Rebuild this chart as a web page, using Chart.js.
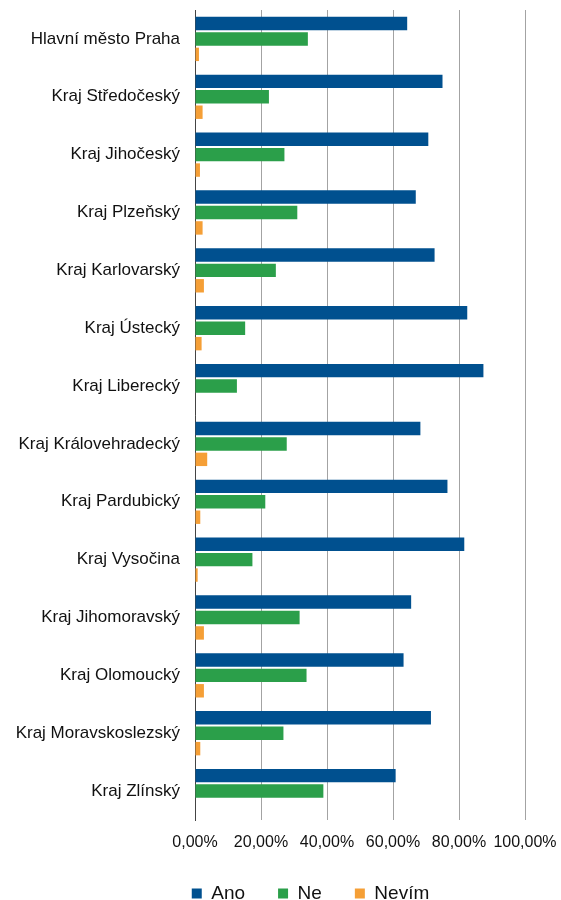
<!DOCTYPE html>
<html>
<head>
<meta charset="utf-8">
<script src="https://cdn.jsdelivr.net/npm/chart.js@4.4.0/dist/chart.umd.min.js"></script>
<style>
  html, body { margin: 0; padding: 0; background: #fff; }
  #wrap { width: 561px; height: 900px; position: relative; }
</style>
</head>
<body>
<div id="wrap"><canvas id="krajeChart"></canvas></div>
<script>
const kraje = [
    "Hlavní město Praha",
    "Kraj Středočeský",
    "Kraj Jihočeský",
    "Kraj Plzeňský",
    "Kraj Karlovarský",
    "Kraj Ústecký",
    "Kraj Liberecký",
    "Kraj Královehradecký",
    "Kraj Pardubický",
    "Kraj Vysočina",
    "Kraj Jihomoravský",
    "Kraj Olomoucký",
    "Kraj Moravskoslezský",
    "Kraj Zlínský"
]
const ano = [64.3, 75.0, 70.7, 66.9, 72.6, 82.5, 87.4, 68.3, 76.5, 81.6, 65.5, 63.2, 71.5, 60.8]
const ne = [34.2, 22.4, 27.1, 31.0, 24.5, 15.2, 12.7, 27.8, 21.3, 17.4, 31.7, 33.8, 26.8, 38.9]
const nevim = [1.2, 2.3, 1.5, 2.3, 2.7, 2.0, 0, 3.7, 1.6, 0.8, 2.7, 2.7, 1.6, 0]
const xTicks = [0, 20, 40, 60, 80, 100]

const fontFam = "'Liberation Sans', Arial, sans-serif";

// legend sits off-centre in the original, nudge it right
const legendShift = {
    id: 'legendShift',
    afterLayout(chart) {
        const lg = chart.legend;
        lg.left += 48;
        lg.right += 48;
    }
};

new Chart(document.getElementById("krajeChart"), {
    type: 'bar',
    data: {
        labels: kraje,
        datasets: [
            { label: 'Ano', data: ano, backgroundColor: '#00508f' },
            { label: 'Ne', data: ne, backgroundColor: '#2b9f4a' },
            { label: 'Nevím', data: nevim, backgroundColor: '#f59f36' }
        ]
    },
    options: {
        indexAxis: 'y',
        responsive: true,
        maintainAspectRatio: false,
        animation: false,
        barPercentage: 0.87,
        categoryPercentage: 0.8,
        layout: {
            padding: { top: 10, left: 0, right: 36, bottom: -13 }
        },
        plugins: {
            tooltip: { enabled: false },
            legend: {
                position: 'bottom',
                labels: {
                    boxWidth: 10,
                    boxHeight: 10,
                    padding: 33,
                    color: '#111',
                    font: { family: fontFam, size: 19 }
                }
            }
        },
        scales: {
            x: {
                min: 0,
                max: 100,
                afterBuildTicks: function(scale) {
                    scale.ticks = xTicks.map(v => ({ value: v }));
                },
                afterFit: function(scale) {
                    scale.height = 31;
                    scale.paddingLeft = 0;
                    scale.paddingRight = 0;
                },
                grid: { color: '#a3a3a3', lineWidth: 1, drawTicks: false },
                border: { display: false },
                ticks: {
                    padding: 13,
                    autoSkip: false,
                    maxRotation: 0,
                    minRotation: 0,
                    color: '#111',
                    font: { family: fontFam, size: 16 },
                    callback: v => v.toFixed(2).replace('.', ',') + '%'
                }
            },
            y: {
                afterFit: function(scale) {
                    scale.width = 195;
                    scale.paddingTop = 0;
                    scale.paddingBottom = 0;
                },
                grid: { display: false, drawTicks: false },
                border: { display: true, color: '#444', width: 1 },
                ticks: {
                    padding: 15,
                    color: '#111',
                    font: { family: fontFam, size: 17 },
                    autoSkip: false
                }
            }
        }
    },
    plugins: [legendShift]
});
</script>
</body>
</html>
